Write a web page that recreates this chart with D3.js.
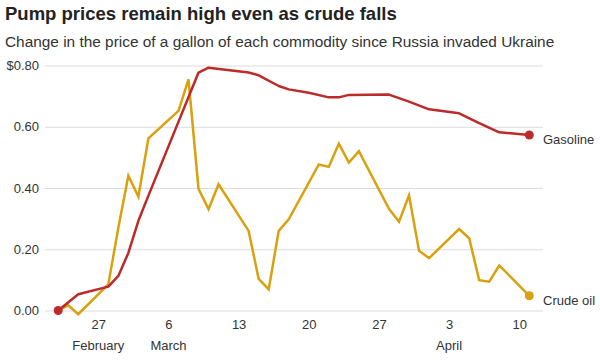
<!DOCTYPE html>
<html>
<head>
<meta charset="utf-8">
<script src="https://cdn.jsdelivr.net/npm/d3@7"></script>
<style>
  html, body { margin: 0; padding: 0; background: #fff; }
  svg { display: block; font-family: "Liberation Sans", Arial, sans-serif; }
</style>
</head>
<body>
<svg id="chart" width="600" height="360"></svg>
<script>
const title = "Pump prices remain high even as crude falls";
const subtitle = "Change in the price of a gallon of each commodity since Russia invaded Ukraine";

const crudeDates = ["2022-02-23","2022-02-24","2022-02-25","2022-02-28","2022-03-01","2022-03-02","2022-03-03","2022-03-04",
  "2022-03-07","2022-03-08","2022-03-09","2022-03-10","2022-03-11","2022-03-14","2022-03-15","2022-03-16","2022-03-17",
  "2022-03-18","2022-03-21","2022-03-22","2022-03-23","2022-03-24","2022-03-25","2022-03-28","2022-03-29","2022-03-30",
  "2022-03-31","2022-04-01","2022-04-04","2022-04-05","2022-04-06","2022-04-07","2022-04-08","2022-04-11"];
const crudeValues = [0, 0.017, -0.012, 0.085, 0.27, 0.44, 0.372, 0.562,
  0.652, 0.755, 0.397, 0.331, 0.412, 0.26, 0.103, 0.069, 0.26,
  0.298, 0.477, 0.469, 0.545, 0.483, 0.52, 0.332, 0.29, 0.376,
  0.195, 0.171, 0.266, 0.236, 0.099, 0.094, 0.147, 0.048];

const gasDates = ["2022-02-23","2022-02-25","2022-02-28","2022-03-01","2022-03-02","2022-03-03","2022-03-04","2022-03-09",
  "2022-03-10","2022-03-14","2022-03-15","2022-03-17","2022-03-18","2022-03-20","2022-03-22","2022-03-23","2022-03-24",
  "2022-03-28","2022-03-30","2022-04-01","2022-04-04","2022-04-06","2022-04-08","2022-04-11"];
const gasValues = [0, 0.053, 0.078, 0.113, 0.188, 0.293, 0.375, 0.777,
  0.793, 0.777, 0.768, 0.733, 0.722, 0.711, 0.696, 0.696, 0.704,
  0.705, 0.682, 0.657, 0.644, 0.612, 0.582, 0.573];

const xTickDates = ["2022-02-27","2022-03-06","2022-03-13","2022-03-20","2022-03-27","2022-04-03","2022-04-10"];
const monthLabels = ["February","March","April"];
const monthTickDates = ["2022-02-27","2022-03-06","2022-04-03"];
const yTicks = [0, 0.2, 0.4, 0.6, 0.8];
const seriesNames = ["Gasoline","Crude oil"];

const parse = d3.utcParse("%Y-%m-%d");
const svg = d3.select("#chart");

const x = d3.scaleUtc()
  .domain([parse("2022-02-23"), parse("2022-04-11")])
  .range([58.2, 529.3]);
const y = d3.scaleLinear().domain([0, 0.8]).range([310.5, 65.5]);

// title
svg.append("text").attr("x", 5).attr("y", 20)
  .attr("font-size", 18.5).attr("font-weight", "bold").attr("fill", "#222")
  .text(title);
svg.append("text").attr("x", 5).attr("y", 47)
  .attr("font-size", 15.4).attr("fill", "#333")
  .text(subtitle);

// y grid + labels
const yAxis = d3.axisLeft(y).tickValues(yTicks)
  .tickSize(-(543 - 45))
  .tickPadding(6)
  .tickFormat((d, i) => (d === 0.8 ? "$" : "") + d3.format(".2f")(d));
const gy = svg.append("g").attr("transform", "translate(45,0)").call(yAxis);
gy.select(".domain").remove();
gy.selectAll(".tick line").attr("stroke", "#dcdcdc").attr("stroke-width", 1);
gy.selectAll(".tick text").attr("font-size", 13).attr("fill", "#333")
  .attr("font-family", "'Liberation Sans', Arial, sans-serif");

// x axis
const xAxis = d3.axisBottom(x).tickValues(xTickDates.map(parse))
  .tickSize(0).tickPadding(0)
  .tickFormat(d3.utcFormat("%-d"));
const gx = svg.append("g").attr("transform", "translate(0,320)").call(xAxis);
gx.select(".domain").remove();
gx.selectAll(".tick text").attr("font-size", 13).attr("fill", "#333")
  .attr("font-family", "'Liberation Sans', Arial, sans-serif")
  .attr("dy", "0.71em");

svg.append("g").selectAll("text").data(monthLabels).join("text")
  .attr("x", (d, i) => x(parse(monthTickDates[i])))
  .attr("y", 350)
  .attr("text-anchor", "middle")
  .attr("font-size", 13).attr("fill", "#333")
  .text(d => d);

const line = d3.line().x(d => x(d[0])).y(d => y(d[1]));
const crude = crudeDates.map((d, i) => [parse(d), crudeValues[i]]);
const gas = gasDates.map((d, i) => [parse(d), gasValues[i]]);

const gold = "#d9a10e", red = "#bc2a2a";

svg.append("path").datum(crude).attr("d", line)
  .attr("fill", "none").attr("stroke", gold).attr("stroke-width", 2.5)
  .attr("stroke-linejoin", "miter");
svg.append("path").datum(gas).attr("d", line)
  .attr("fill", "none").attr("stroke", red).attr("stroke-width", 2.5)
  .attr("stroke-linejoin", "round");

// end dots
const lastCrude = crude[crude.length - 1], lastGas = gas[gas.length - 1];
svg.append("circle").attr("cx", x(lastCrude[0])).attr("cy", y(lastCrude[1])).attr("r", 4.5).attr("fill", gold);
svg.append("circle").attr("cx", x(lastGas[0])).attr("cy", y(lastGas[1])).attr("r", 4.5).attr("fill", red);
svg.append("circle").attr("cx", x(gas[0][0])).attr("cy", y(gas[0][1])).attr("r", 4.5).attr("fill", red);

// series labels
svg.append("text").attr("x", 543).attr("y", y(lastGas[1]) + 9)
  .attr("font-size", 13).attr("fill", "#333").text(seriesNames[0]);
svg.append("text").attr("x", 543).attr("y", y(lastCrude[1]) + 9)
  .attr("font-size", 13).attr("fill", "#333").text(seriesNames[1]);
</script>
</body>
</html>
